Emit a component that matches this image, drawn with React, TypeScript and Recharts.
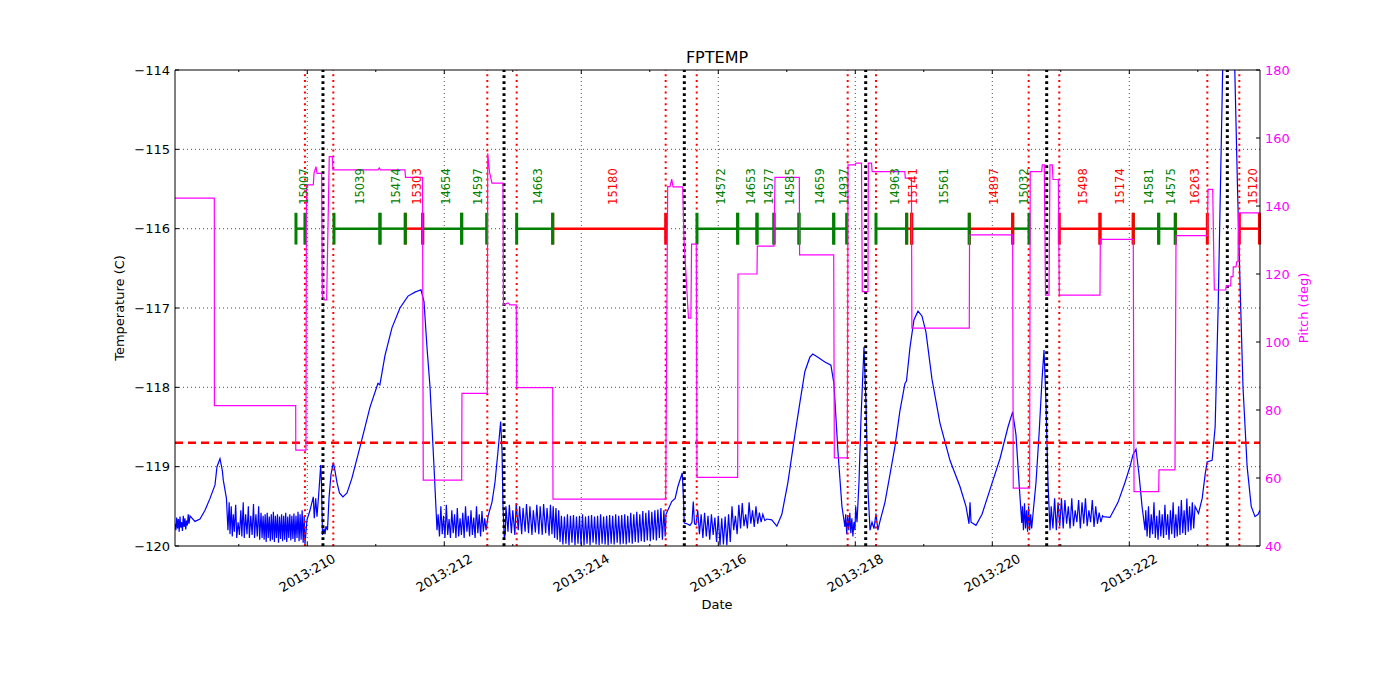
import {
  ComposedChart,
  Line,
  Scatter,
  XAxis,
  YAxis,
  ReferenceLine,
} from 'recharts';

// x is fractional day of year 2013
const X_DOMAIN: [number, number] = [208.069, 223.908];
const DAY_TICKS = [209, 210, 211, 212, 213, 214, 215, 216, 217, 218, 219, 220, 221, 222, 223];
const GRID_DAYS = [210, 212, 214, 216, 218, 220, 222];
const TEMP_TICKS = [-120, -119, -118, -117, -116, -115, -114];
const GRID_TEMPS = [-119, -118, -117, -116, -115];
const PITCH_TICKS = [40, 60, 80, 100, 120, 140, 160, 180];

const TEMP_LIMIT = -118.7;
const SEG_LEVEL = -116;
const LABEL_LEVEL = -115.7;

// red dotted = pass boundaries, black dotted = perigee
const RED_TIMES = [209.966, 210.38, 212.628, 213.057, 215.232, 215.685, 217.889, 218.302, 220.531, 220.978, 223.139, 223.606];
const BLACK_TIMES = [210.229, 212.872, 215.504, 218.152, 220.794, 223.431];

// observation segments
const SEG_START = [209.835, 210.39, 211.061, 211.431, 211.685, 212.254, 213.057, 213.583, 215.689, 216.283, 216.565, 216.813, 217.178, 217.685, 218.302, 218.75, 218.823, 219.664, 220.298, 220.978, 221.572, 222.058, 222.429, 222.672, 223.606];
const SEG_END = [209.966, 211.061, 211.431, 211.685, 212.254, 212.619, 213.583, 215.232, 216.283, 216.565, 216.813, 217.178, 217.685, 217.874, 218.75, 218.823, 219.664, 220.298, 220.536, 221.572, 222.058, 222.429, 222.672, 223.139, 223.9];
const SEG_OBSID = ['15007', '15039', '15474', '15303', '14654', '14597', '14663', '15180', '14572', '14653', '14577', '14585', '14659', '14937', '14963', '15141', '15561', '14897', '15032', '15498', '15174', '14581', '14575', '16263', '15120'];
const SEG_HOT = [false, false, false, true, false, false, false, true, false, false, false, false, false, false, false, true, false, true, false, true, true, false, false, true, true];

// FPTEMP (C)
const TEMP_1 = [
  [208.07, -119.72], [208.082, -119.8], [208.094, -119.64], [208.106, -119.78], [208.118, -119.66], [208.13, -119.82],
  [208.142, -119.63], [208.154, -119.77], [208.166, -119.7], [208.178, -119.81], [208.19, -119.62], [208.202, -119.76],
  [208.214, -119.65], [208.226, -119.79], [208.238, -119.68], [208.25, -119.74], [208.262, -119.6], [208.274, -119.72],
  [208.288, -119.62], [208.36, -119.69], [208.434, -119.66], [208.507, -119.55], [208.58, -119.4], [208.653, -119.23],
  [208.682, -119.0], [208.726, -118.9], [208.76, -119.05], [208.774, -119.17], [208.82, -119.4],
];
const TEMP_2 = [
  [208.842, -119.8], [208.86, -119.45], [208.872, -119.85], [208.89, -119.5], [208.905, -119.88], [208.92, -119.6],
  [208.935, -119.82], [208.955, -119.48], [208.97, -119.9], [208.99, -119.7], [209.01, -119.86], [209.03, -119.55],
  [209.045, -119.88], [209.065, -119.45], [209.08, -119.9], [209.1, -119.6], [209.12, -119.85], [209.14, -119.5],
  [209.155, -119.9], [209.175, -119.62], [209.195, -119.86], [209.215, -119.47], [209.23, -119.9], [209.25, -119.6],
  [209.27, -119.88], [209.29, -119.5], [209.305, -119.92], [209.325, -119.58], [209.34, -119.9],
  [209.355, -119.62], [209.37, -119.92], [209.385, -119.6], [209.4, -119.95], [209.415, -119.58], [209.43, -119.9],
  [209.445, -119.63], [209.46, -119.94], [209.475, -119.6], [209.49, -119.92], [209.505, -119.57], [209.52, -119.95],
  [209.535, -119.62], [209.55, -119.9], [209.565, -119.6], [209.58, -119.96], [209.595, -119.63], [209.61, -119.91],
  [209.625, -119.6], [209.64, -119.94], [209.655, -119.62], [209.67, -119.92], [209.685, -119.58], [209.7, -119.95],
  [209.715, -119.63], [209.73, -119.9], [209.745, -119.6], [209.76, -119.93], [209.775, -119.62], [209.79, -119.91],
  [209.805, -119.59], [209.82, -119.95], [209.835, -119.62], [209.85, -119.9], [209.865, -119.57], [209.88, -119.94],
  [209.895, -119.6], [209.91, -119.92], [209.925, -119.55], [209.94, -119.96], [209.955, -119.62], [209.966, -119.98],
];
const TEMP_3 = [
  [209.996, -119.67], [210.04, -119.55], [210.088, -119.38], [210.102, -119.65], [210.123, -119.4], [210.142, -119.63],
  [210.171, -119.3], [210.196, -118.98], [210.207, -119.2], [210.222, -119.86], [210.245, -119.78], [210.26, -119.85],
  [210.273, -119.75], [210.295, -119.8], [210.317, -119.4], [210.346, -119.1], [210.38, -118.95], [210.404, -119.05],
  [210.434, -119.2], [210.47, -119.33], [210.52, -119.38], [210.58, -119.33], [210.65, -119.15], [210.77, -118.75],
  [210.916, -118.25], [211.032, -117.95], [211.06, -117.97], [211.134, -117.6], [211.236, -117.25], [211.353, -117.0],
  [211.47, -116.85], [211.572, -116.8], [211.66, -116.77], [211.704, -116.92], [211.748, -117.5], [211.792, -118.0],
  [211.85, -119.0], [211.894, -119.8],
];
const TEMP_4 = [
  [211.91, -119.6], [211.93, -119.88], [211.95, -119.5], [211.97, -119.85], [211.99, -119.62], [212.01, -119.9],
  [212.03, -119.48], [212.05, -119.86], [212.07, -119.66], [212.09, -119.9], [212.11, -119.55], [212.13, -119.84],
  [212.15, -119.6], [212.17, -119.9], [212.19, -119.52], [212.21, -119.88], [212.23, -119.65], [212.25, -119.86],
  [212.27, -119.58], [212.29, -119.9], [212.31, -119.5], [212.33, -119.82], [212.35, -119.62], [212.37, -119.88],
  [212.39, -119.55], [212.41, -119.86], [212.43, -119.64], [212.45, -119.9], [212.47, -119.5], [212.49, -119.84],
  [212.51, -119.6], [212.53, -119.88], [212.55, -119.56], [212.57, -119.82], [212.59, -119.65], [212.61, -119.8],
  [212.64, -119.62], [212.696, -119.45], [212.74, -119.2], [212.785, -118.8], [212.823, -118.43], [212.843, -118.8],
  [212.857, -119.5], [212.876, -119.9],
];
const TEMP_5 = [
  [212.89, -119.85], [212.9, -119.5], [212.93, -119.82], [212.95, -119.48], [212.98, -119.84], [213.0, -119.55],
  [213.03, -119.86], [213.05, -119.46], [213.08, -119.8], [213.1, -119.5], [213.13, -119.85], [213.15, -119.52],
  [213.18, -119.82], [213.2, -119.47], [213.23, -119.84], [213.25, -119.5], [213.28, -119.86], [213.3, -119.55],
  [213.33, -119.83], [213.35, -119.48], [213.38, -119.85], [213.4, -119.5], [213.43, -119.86], [213.45, -119.47],
  [213.48, -119.84], [213.5, -119.52], [213.53, -119.87], [213.55, -119.48], [213.572, -119.85],
  [213.59, -119.5], [213.61, -119.9], [213.63, -119.52], [213.65, -119.92], [213.67, -119.55], [213.69, -119.95],
];
const TEMP_6 = [
  [213.71, -119.62], [213.732, -119.98], [213.754, -119.63], [213.776, -119.97], [213.798, -119.6], [213.82, -119.99],
  [213.842, -119.62], [213.864, -119.96], [213.886, -119.61], [213.908, -119.99], [213.93, -119.63], [213.952, -119.97],
  [213.974, -119.62], [213.996, -119.98], [214.018, -119.6], [214.04, -119.99], [214.062, -119.63], [214.084, -119.97],
  [214.106, -119.62], [214.128, -119.99], [214.15, -119.61], [214.172, -119.96], [214.194, -119.63], [214.216, -119.98],
  [214.238, -119.62], [214.26, -119.99], [214.282, -119.6], [214.304, -119.97], [214.326, -119.63], [214.348, -119.98],
  [214.37, -119.62], [214.392, -119.99], [214.414, -119.61], [214.436, -119.97], [214.458, -119.62], [214.48, -119.98],
  [214.502, -119.6], [214.524, -119.96], [214.546, -119.62], [214.568, -119.98], [214.59, -119.61], [214.612, -119.97],
  [214.634, -119.6], [214.656, -119.98], [214.678, -119.62], [214.7, -119.96], [214.722, -119.58], [214.744, -119.97],
  [214.766, -119.6], [214.788, -119.95], [214.81, -119.57], [214.832, -119.96], [214.854, -119.6], [214.876, -119.94],
  [214.898, -119.56], [214.92, -119.95], [214.942, -119.58], [214.964, -119.93], [214.986, -119.55], [215.008, -119.94],
  [215.03, -119.57], [215.052, -119.92], [215.074, -119.55], [215.096, -119.93], [215.118, -119.54], [215.14, -119.9],
  [215.162, -119.52], [215.184, -119.92], [215.206, -119.55], [215.225, -119.88],
];
const TEMP_7 = [
  [215.237, -119.6], [215.32, -119.44], [215.37, -119.4], [215.41, -119.25], [215.474, -119.08], [215.492, -119.4],
  [215.503, -119.71], [215.543, -119.72], [215.587, -119.74], [215.616, -119.7], [215.635, -119.44], [215.653, -119.72],
  [215.675, -119.73],
  [215.7, -119.55], [215.725, -119.85], [215.75, -119.6], [215.775, -119.9], [215.8, -119.58], [215.825, -119.88],
  [215.85, -119.62], [215.875, -119.92], [215.9, -119.6], [215.925, -119.86], [215.95, -119.64], [215.975, -119.95],
  [216.0, -119.62], [216.025, -119.99], [216.05, -119.65], [216.075, -119.98], [216.1, -119.63], [216.125, -119.99],
  [216.15, -119.6], [216.175, -119.95], [216.2, -119.5], [216.225, -119.8], [216.25, -119.62], [216.275, -119.85],
  [216.3, -119.48], [216.325, -119.78], [216.35, -119.46], [216.375, -119.75], [216.4, -119.6], [216.425, -119.78],
  [216.45, -119.45], [216.475, -119.72], [216.5, -119.55], [216.525, -119.76], [216.55, -119.5], [216.575, -119.72],
  [216.6, -119.58], [216.625, -119.7], [216.65, -119.6], [216.68, -119.68],
];
const TEMP_8 = [
  [216.71, -119.66], [216.78, -119.67], [216.855, -119.75], [216.928, -119.6], [217.016, -119.2], [217.118, -118.6],
  [217.19, -118.2], [217.264, -117.8], [217.337, -117.62], [217.38, -117.58], [217.454, -117.62], [217.556, -117.68],
  [217.644, -117.72], [217.688, -117.95], [217.746, -118.8], [217.805, -119.5], [217.849, -119.76],
  [217.86, -119.6], [217.875, -119.85], [217.89, -119.62], [217.905, -119.8], [217.92, -119.58], [217.935, -119.84],
  [217.95, -119.65], [217.965, -119.88], [217.98, -119.7], [217.995, -119.8], [218.006, -119.5], [218.025, -119.7],
  [218.054, -119.2], [218.083, -118.4], [218.127, -117.49], [218.156, -118.2], [218.186, -119.3], [218.215, -119.8],
  [218.244, -119.7], [218.273, -119.78], [218.302, -119.59], [218.33, -119.8], [218.36, -119.69],
];
const TEMP_9 = [
  [218.433, -119.45], [218.506, -119.1], [218.578, -118.75], [218.651, -118.3], [218.725, -117.95], [218.747, -117.92],
  [218.798, -117.5], [218.856, -117.15], [218.915, -117.04], [218.973, -117.1], [219.031, -117.3], [219.12, -117.9],
  [219.236, -118.45], [219.382, -118.92], [219.528, -119.25], [219.616, -119.5], [219.66, -119.72], [219.675, -119.45],
  [219.69, -119.7], [219.762, -119.74], [219.85, -119.6], [219.966, -119.29], [220.112, -118.9], [220.229, -118.5],
  [220.297, -118.31], [220.346, -118.6], [220.39, -119.2], [220.43, -119.71],
  [220.44, -119.5], [220.455, -119.8], [220.47, -119.46], [220.485, -119.78], [220.5, -119.55], [220.515, -119.82],
  [220.53, -119.5], [220.545, -119.8], [220.56, -119.6], [220.575, -119.78],
  [220.594, -119.6], [220.638, -119.2], [220.682, -118.6], [220.726, -117.9], [220.755, -117.53], [220.784, -118.2],
  [220.813, -119.2], [220.843, -119.8],
];
const TEMP_10 = [
  [220.86, -119.5], [220.885, -119.78], [220.91, -119.4], [220.935, -119.8], [220.96, -119.45], [220.985, -119.75],
  [221.01, -119.4], [221.035, -119.78], [221.06, -119.42], [221.085, -119.72], [221.11, -119.5], [221.135, -119.78],
  [221.16, -119.4], [221.185, -119.75], [221.21, -119.55], [221.235, -119.7], [221.26, -119.42], [221.285, -119.78],
  [221.31, -119.45], [221.335, -119.72], [221.36, -119.4], [221.385, -119.75], [221.41, -119.55], [221.435, -119.7],
  [221.46, -119.42], [221.485, -119.76], [221.51, -119.5], [221.535, -119.72], [221.56, -119.58], [221.585, -119.7],
  [221.61, -119.62], [221.62, -119.63], [221.718, -119.64], [221.835, -119.45], [221.937, -119.2], [222.01, -119.0],
  [222.054, -118.85], [222.098, -118.78], [222.142, -119.1], [222.186, -119.5], [222.23, -119.8],
];
const TEMP_11 = [
  [222.24, -119.55], [222.26, -119.88], [222.28, -119.5], [222.3, -119.9], [222.32, -119.6], [222.34, -119.85],
  [222.36, -119.45], [222.38, -119.9], [222.4, -119.62], [222.42, -119.92], [222.44, -119.55], [222.46, -119.88],
  [222.48, -119.6], [222.5, -119.9], [222.52, -119.48], [222.54, -119.86], [222.56, -119.6], [222.58, -119.92],
  [222.6, -119.55], [222.62, -119.85], [222.64, -119.45], [222.66, -119.9], [222.68, -119.6], [222.7, -119.88],
  [222.72, -119.5], [222.74, -119.86], [222.76, -119.42], [222.78, -119.84], [222.8, -119.55], [222.82, -119.86],
  [222.84, -119.4], [222.86, -119.82], [222.88, -119.5], [222.9, -119.8], [222.92, -119.45], [222.94, -119.78],
  [222.96, -119.5], [223.01, -119.59], [223.064, -119.4], [223.107, -119.1], [223.136, -118.94], [223.209, -118.92],
  [223.253, -118.5], [223.297, -117.0], [223.341, -115.0], [223.363, -114.0], [223.385, -113.0], [223.43, -112.3],
  [223.48, -112.4], [223.51, -113.0], [223.54, -114.0], [223.58, -115.5], [223.62, -116.8], [223.66, -118.0],
  [223.72, -119.0], [223.78, -119.5], [223.835, -119.63], [223.88, -119.6], [223.908, -119.55],
];

// Pitch (deg)
const PITCH = [
  [208.069, 142.3], [208.643, 142.3], [208.644, 81.3], [209.831, 81.3], [209.832, 68.2], [209.981, 68.2],
  [209.988, 146.2], [210.088, 146.2], [210.098, 149.6], [210.127, 151.6], [210.142, 149.6], [210.21, 149.6],
  [210.219, 113.8], [210.245, 112.4], [210.283, 112.4], [210.321, 154.5], [210.365, 154.5], [210.375, 150.6],
  [211.032, 150.6], [211.051, 151.2], [211.069, 150.6], [211.426, 150.6], [211.434, 148.4], [211.682, 148.4],
  [211.693, 59.4], [212.254, 59.4], [212.258, 84.9], [212.628, 84.9], [212.634, 155.5], [212.66, 150],
  [212.696, 146.7], [212.857, 146.7], [212.864, 110.9], [212.93, 111.5], [212.96, 110.9], [213.051, 110.9],
  [213.057, 86.6], [213.583, 86.6], [213.587, 53.8], [215.232, 53.8], [215.261, 145.7], [215.295, 145.7],
  [215.32, 147.9], [215.339, 145.6], [215.48, 145.6], [215.5, 130], [215.565, 107], [215.6, 107],
  [215.61, 128.8], [215.679, 128.8], [215.689, 60.2], [216.283, 60.2], [216.288, 120], [216.565, 120],
  [216.57, 128.2], [216.813, 128.2], [216.828, 148.4], [217.183, 148.4], [217.187, 125.6], [217.685, 125.6],
  [217.694, 65.9], [217.884, 65.9], [217.894, 152.1], [217.996, 152.1], [218.01, 152.6], [218.091, 152.6],
  [218.102, 114.8], [218.185, 114.8], [218.19, 152.6], [218.237, 152.6], [218.246, 150.1], [218.723, 150.1],
  [218.73, 148.2], [218.82, 148.2], [218.826, 104.1], [219.664, 104.1], [219.668, 131.5], [220.297, 131.5],
  [220.306, 57.0], [220.545, 57.0], [220.554, 150.1], [220.721, 150.1], [220.73, 152.1], [220.759, 152.1],
  [220.777, 113.8], [220.828, 113.8], [220.842, 152.1], [220.876, 152.1], [220.886, 147.8], [220.964, 147.8],
  [220.978, 113.8], [221.572, 113.8], [221.577, 130.2], [222.058, 130.2], [222.069, 56.0], [222.429, 56.0],
  [222.434, 62.4], [222.667, 62.4], [222.682, 131.3], [223.139, 131.3], [223.149, 144.9], [223.218, 144.9],
  [223.241, 115.3], [223.407, 115.3], [223.419, 116.5], [223.48, 116.5], [223.485, 119.2], [223.514, 119.2],
  [223.518, 122.1], [223.558, 122.1], [223.568, 123.6], [223.587, 123.6], [223.595, 138], [223.908, 138],
];

const FONT = '"DejaVu Sans", sans-serif';
const MAGENTA = '#ff00ff';

const tempData = [
  ...TEMP_1, ...TEMP_2, ...TEMP_3, ...TEMP_4, ...TEMP_5, ...TEMP_6,
  ...TEMP_7, ...TEMP_8, ...TEMP_9, ...TEMP_10, ...TEMP_11,
].map(([day, temp]) => ({ day, temp }));
const pitchData = PITCH.map(([day, pitch]) => ({ day, pitch }));
const labelData = SEG_OBSID.map((label, i) => ({
  day: (SEG_START[i] + SEG_END[i]) / 2,
  temp: LABEL_LEVEL,
  label,
  hot: SEG_HOT[i],
}));

const minus = (v: number) => String(v).replace('-', '\u2212');

function BottomTick(props: any) {
  const { x, y, payload } = props;
  const d = payload.value;
  const major = d % 2 === 0;
  const ty = y + 27;
  return (
    <g>
      <line x1={x} x2={x} y1={y} y2={y - (major ? 4 : 2)} stroke="#000" />
      {major && (
        <text x={x} y={ty} textAnchor="middle" dominantBaseline="central"
          transform={`rotate(-30 ${x} ${ty})`} fontSize={13} fontFamily={FONT} fill="#000">
          {`2013:${d}`}
        </text>
      )}
    </g>
  );
}

function TopTick(props: any) {
  const { x, y, payload } = props;
  const major = payload.value % 2 === 0;
  return <line x1={x} x2={x} y1={y} y2={y + (major ? 4 : 2)} stroke="#000" />;
}

function LeftTick(props: any) {
  const { x, y, payload } = props;
  return (
    <g>
      <line x1={x} x2={x + 4} y1={y} y2={y} stroke="#000" />
      <text x={x - 5} y={y} textAnchor="end" dominantBaseline="central" fontSize={13} fontFamily={FONT} fill="#000">
        {minus(payload.value)}
      </text>
    </g>
  );
}

function RightTick(props: any) {
  const { x, y, payload } = props;
  return (
    <g>
      <line x1={x} x2={x - 4} y1={y} y2={y} stroke="#000" />
      <text x={x + 5} y={y} textAnchor="start" dominantBaseline="central" fontSize={13} fontFamily={FONT} fill={MAGENTA}>
        {payload.value}
      </text>
    </g>
  );
}

function ObsLabel(props: any) {
  const { cx, cy, payload } = props;
  const x = cx + 3.5;
  return (
    <text x={x} y={cy} textAnchor="start" dominantBaseline="central"
      transform={`rotate(-90 ${x} ${cy})`} fontSize={11.5} fontFamily={FONT}
      fill={payload.hot ? '#ff0000' : '#008000'}>
      {payload.label}
    </text>
  );
}

const overlay = (extra: any) => ({
  position: 'absolute' as const,
  fontFamily: FONT,
  whiteSpace: 'nowrap' as const,
  lineHeight: 1,
  ...extra,
});

export default function App() {
  return (
    <div style={{ position: 'absolute', left: 0, top: 0, width: 1400, height: 700, background: '#fff' }}>
      <ComposedChart width={1400} height={700} margin={{ top: 60, right: 80, bottom: 104, left: 115 }}>
        <XAxis xAxisId="bottom" dataKey="day" type="number" domain={X_DOMAIN} allowDataOverflow
          ticks={DAY_TICKS} interval={0} tickSize={0} tickMargin={0} tick={<BottomTick />}
          height={50} axisLine={{ stroke: '#000' }} tickLine={false} />
        <XAxis xAxisId="top" orientation="top" dataKey="day" type="number" domain={X_DOMAIN} allowDataOverflow
          ticks={DAY_TICKS} interval={0} tickSize={0} tickMargin={0} tick={<TopTick />}
          height={10} axisLine={{ stroke: '#000' }} tickLine={false} />
        <YAxis yAxisId="left" dataKey="temp" type="number" domain={[-120, -114]} allowDataOverflow
          ticks={TEMP_TICKS} interval={0} tickSize={0} tickMargin={0} tick={<LeftTick />}
          width={60} axisLine={{ stroke: '#000' }} tickLine={false} />
        <YAxis yAxisId="right" orientation="right" dataKey="pitch" type="number" domain={[40, 180]} allowDataOverflow
          ticks={PITCH_TICKS} interval={0} tickSize={0} tickMargin={0} tick={<RightTick />}
          width={60} axisLine={{ stroke: '#000' }} tickLine={false} />

        {GRID_DAYS.map((d) => (
          <ReferenceLine key={`gx${d}`} xAxisId="bottom" yAxisId="left" x={d} stroke="#000" strokeWidth={0.7} strokeDasharray="1 3" />
        ))}
        {GRID_TEMPS.map((t) => (
          <ReferenceLine key={`gy${t}`} xAxisId="bottom" yAxisId="left" y={t} stroke="#000" strokeWidth={0.7} strokeDasharray="1 3" />
        ))}

        <Line xAxisId="bottom" yAxisId="left" data={tempData} dataKey="temp" type="linear"
          stroke="#0000ff" strokeWidth={1.2} dot={false} isAnimationActive={false} />

        {RED_TIMES.map((d) => (
          <ReferenceLine key={`r${d}`} xAxisId="bottom" yAxisId="left" x={d} stroke="#ff0000" strokeWidth={2} strokeDasharray="2 3.8" />
        ))}
        {BLACK_TIMES.map((d) => (
          <ReferenceLine key={`k${d}`} xAxisId="bottom" yAxisId="left" x={d} stroke="#000" strokeWidth={3} strokeDasharray="2.8 3.2" />
        ))}

        <ReferenceLine xAxisId="bottom" yAxisId="left" y={TEMP_LIMIT} stroke="#ff0000" strokeWidth={2.5} strokeDasharray="8 5" />

        {SEG_START.map((s, i) => (
          <ReferenceLine key={`s${i}`} xAxisId="bottom" yAxisId="left"
            segment={[{ x: s, y: SEG_LEVEL }, { x: SEG_END[i], y: SEG_LEVEL }]}
            stroke={SEG_HOT[i] ? '#ff0000' : '#008000'} strokeWidth={2.5} />
        ))}
        {SEG_START.map((s, i) => (
          <ReferenceLine key={`a${i}`} xAxisId="bottom" yAxisId="left"
            segment={[{ x: s, y: SEG_LEVEL + 0.2 }, { x: s, y: SEG_LEVEL - 0.2 }]}
            stroke={SEG_HOT[i] ? '#ff0000' : '#008000'} strokeWidth={3} />
        ))}
        {SEG_END.map((e, i) => (
          <ReferenceLine key={`b${i}`} xAxisId="bottom" yAxisId="left"
            segment={[{ x: e, y: SEG_LEVEL + 0.2 }, { x: e, y: SEG_LEVEL - 0.2 }]}
            stroke={SEG_HOT[i] ? '#ff0000' : '#008000'} strokeWidth={3} />
        ))}

        <Scatter xAxisId="bottom" yAxisId="left" data={labelData} dataKey="temp" shape={<ObsLabel />} isAnimationActive={false} />

        <Line xAxisId="bottom" yAxisId="right" data={pitchData} dataKey="pitch" type="linear"
          stroke={MAGENTA} strokeWidth={1.2} dot={false} isAnimationActive={false} />
      </ComposedChart>

      <div style={overlay({ left: 717, top: 58, fontSize: 16, transform: 'translate(-50%, -50%)' })}>FPTEMP</div>
      <div style={overlay({ left: 717, top: 604, fontSize: 13, transform: 'translate(-50%, -50%)' })}>Date</div>
      <div style={overlay({ left: 119, top: 308, fontSize: 13, transform: 'translate(-50%, -50%) rotate(-90deg)' })}>
        Temperature (C)
      </div>
      <div style={overlay({ left: 1303, top: 308, fontSize: 13, color: MAGENTA, transform: 'translate(-50%, -50%) rotate(-90deg)' })}>
        Pitch (deg)
      </div>
    </div>
  );
}
